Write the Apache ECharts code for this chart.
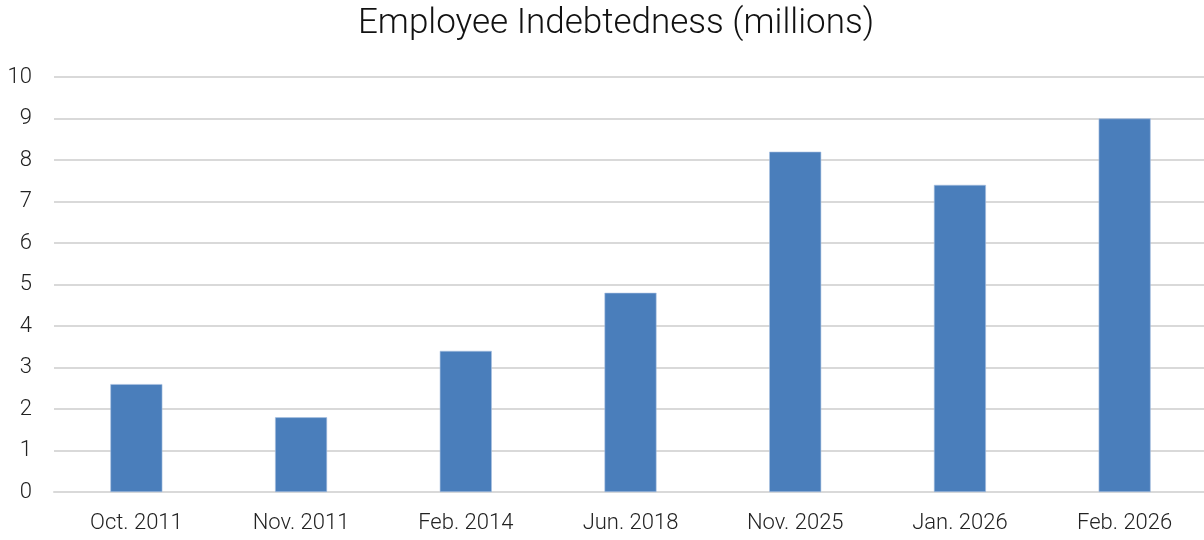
<!DOCTYPE html>
<html>
<head>
<meta charset="utf-8">
<script src="https://cdn.jsdelivr.net/npm/echarts@6/dist/echarts.min.js"></script>
<style>
  html, body { margin: 0; padding: 0; background: #ffffff; overflow: hidden; }
  /* canvas runs a few pixels past the window so the last category keeps full width */
  #chart { width: 1207px; height: 540px; }
</style>
</head>
<body>
<div id="chart"></div>
<script>
// Employee indebtedness by reporting date, in millions
const categories = ['Oct. 2011', 'Nov. 2011', 'Feb. 2014', 'Jun. 2018', 'Nov. 2025', 'Jan. 2026', 'Feb. 2026'];
const values = [2.6, 1.8, 3.4, 4.8, 8.2, 7.4, 9.0];
const titleText = 'Employee Indebtedness (millions)';

const FONT = 'Roboto, "Liberation Sans", sans-serif';

const chart = echarts.init(document.getElementById('chart'), null, { renderer: 'canvas' });
chart.setOption({
  animation: false,
  backgroundColor: '#ffffff',
  title: {
    text: titleText,
    left: 611,
    textAlign: 'center',
    top: 2,
    textStyle: { fontFamily: FONT, fontWeight: 300, fontSize: 35, color: '#111111' }
  },
  grid: { left: 54, right: 0, top: 77, bottom: 48, containLabel: false },
  xAxis: {
    type: 'category',
    data: categories,
    axisLine: { show: true, lineStyle: { color: '#d9d9d9', width: 2 } },
    axisTick: { show: false },
    axisLabel: { fontFamily: FONT, fontWeight: 300, fontSize: 22, color: '#222222', margin: 20 }
  },
  yAxis: {
    type: 'value',
    min: 0,
    max: 10,
    interval: 1,
    axisLine: { show: false },
    axisTick: { show: false },
    splitLine: { lineStyle: { color: '#d9d9d9', width: 2 } },
    axisLabel: { fontFamily: FONT, fontWeight: 300, fontSize: 22, color: '#222222', margin: 22 }
  },
  series: [{
    type: 'bar',
    data: values,
    barWidth: 52,
    itemStyle: { color: '#4a7ebb', borderColor: '#a9c1e0', borderWidth: 0.6 }
  }]
});
</script>
</body>
</html>
